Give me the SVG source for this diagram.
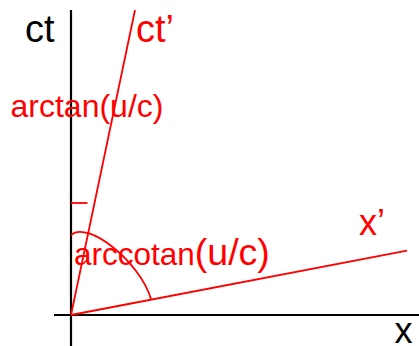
<svg xmlns="http://www.w3.org/2000/svg" width="419" height="346" viewBox="0 0 419 346">
<style>
.ax{stroke:#000;stroke-width:2.2;fill:none}
.rl{stroke:#ff0000;stroke-width:1.8;fill:none}
.tb{font-family:"Liberation Sans",Arial,sans-serif;fill:#000}
.tr{font-family:"Liberation Sans",Arial,sans-serif;fill:#ff0000}
</style>
<rect width="419" height="346" fill="#fff"/>
<g id="axes">
<line class="ax" x1="71" y1="10" x2="71" y2="346"/>
<line class="ax" x1="54" y1="315" x2="419" y2="315"/>
</g>
<g id="connectors">
<line class="rl" x1="71" y1="315" x2="135" y2="10"/>
<line class="rl" x1="71" y1="315" x2="407" y2="250.7"/>
<line class="rl" x1="71" y1="203" x2="87.5" y2="203"/>
<path class="rl" d="M71,235 C88,220 140,262 151,299"/>
</g>
<g id="labels">
<text class="tb" x="25" y="42" font-size="38">ct</text>
<text class="tr" x="136" y="42" font-size="38">ct’</text>
<text class="tr" x="10.5" y="117" font-size="32">arctan(u/c)</text>
<text class="tr" x="74" y="264.5" font-size="31.5">arccotan<tspan font-size="37.5">(u/c)</tspan></text>
<text class="tr" x="359" y="234.5" font-size="36">x’</text>
<text class="tb" x="394.5" y="343" font-size="36">x</text>
</g>
</svg>
